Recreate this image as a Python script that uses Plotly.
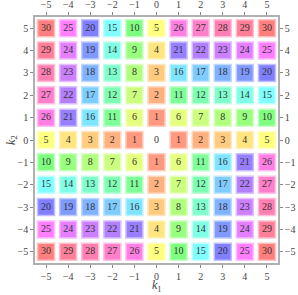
import colorsys
import plotly.graph_objects as go

k1_vals = [-5, -4, -3, -2, -1, 0, 1, 2, 3, 4, 5]
k2_vals = [5, 4, 3, 2, 1, 0, -1, -2, -3, -4, -5]
# rows: k2 from 5 down to -5; columns: k1 from -5 to 5
grid = [
    [30, 25, 20, 15, 10, 5, 26, 27, 28, 29, 30],
    [29, 24, 19, 14, 9, 4, 21, 22, 23, 24, 25],
    [28, 23, 18, 13, 8, 3, 16, 17, 18, 19, 20],
    [27, 22, 17, 12, 7, 2, 11, 12, 13, 14, 15],
    [26, 21, 16, 11, 6, 1, 6, 7, 8, 9, 10],
    [5, 4, 3, 2, 1, 0, 1, 2, 3, 4, 5],
    [10, 9, 8, 7, 6, 1, 6, 11, 16, 21, 26],
    [15, 14, 13, 12, 11, 2, 7, 12, 17, 22, 27],
    [20, 19, 18, 17, 16, 3, 8, 13, 18, 23, 28],
    [25, 24, 23, 22, 21, 4, 9, 14, 19, 24, 29],
    [30, 29, 28, 27, 26, 5, 10, 15, 20, 25, 30],
]
tick_vals = [-5, -4, -3, -2, -1, 0, 1, 2, 3, 4, 5]
x_title = "<i>k</i><sub>1</sub>"
y_title = "<i>k</i><sub>2</sub>"


def hue_color(n, s, v=1.0):
    r, g, b = colorsys.hsv_to_rgb((n / 30.0) % 1.0, s, v)
    return f"rgb({int(r*255)},{int(g*255)},{int(b*255)})"


xs, ys, fills, edges = [], [], [], []
tx, ty, tt = [], [], []
for i, k2 in enumerate(k2_vals):
    for j, k1 in enumerate(k1_vals):
        n = grid[i][j]
        tx.append(k1); ty.append(k2); tt.append(str(n))
        if n == 0:
            continue
        xs.append(k1); ys.append(k2)
        fills.append(hue_color(n, 0.5))
        edges.append(hue_color(n, 0.25))

fig = go.Figure()
fig.add_trace(go.Scatter(
    x=xs, y=ys, mode="markers",
    marker=dict(symbol="square", size=17, color=fills,
                line=dict(color=edges, width=1.5)),
    hoverinfo="skip", showlegend=False))
fig.add_trace(go.Scatter(
    x=tx, y=ty, mode="text", text=tt,
    textfont=dict(family="Liberation Serif", size=10, color="#333333"),
    hoverinfo="skip", showlegend=False))
# invisible trace to anchor the mirrored axes
fig.add_trace(go.Scatter(x=[0], y=[0], xaxis="x2", yaxis="y2", mode="markers",
                         marker=dict(opacity=0), hoverinfo="skip", showlegend=False))

axis_common = dict(range=[-5.5, 5.5], tickvals=tick_vals, ticks="outside", ticklen=3,
                   tickwidth=1, tickcolor="#888888", showgrid=False, zeroline=False,
                   showline=True, linecolor="#b0b0b0", linewidth=1.5, automargin=False,
                   tickfont=dict(family="Liberation Serif", size=10, color="#444444"))

fig.update_layout(
    width=298, height=295,
    margin=dict(l=35, r=20, t=17, b=32),
    paper_bgcolor="white", plot_bgcolor="white",
    xaxis=dict(**axis_common, side="bottom"),
    yaxis=dict(**axis_common, side="left"),
    xaxis2=dict(**axis_common, side="top", overlaying="x", anchor="y"),
    yaxis2=dict(**axis_common, side="right", overlaying="y", anchor="x"),
    annotations=[
        dict(text=x_title, xref="paper", yref="paper", x=0.5, y=-0.095,
             xanchor="center", yanchor="middle", showarrow=False,
             font=dict(family="Liberation Serif", size=12, color="#444444")),
        dict(text=y_title, xref="paper", yref="paper", x=-0.095, y=0.5,
             xanchor="center", yanchor="middle", showarrow=False, textangle=-90,
             font=dict(family="Liberation Serif", size=12, color="#444444")),
    ],
)

fig.write_html("out.html", config={"displayModeBar": False},
               post_script="document.body.style.margin='0px';")
